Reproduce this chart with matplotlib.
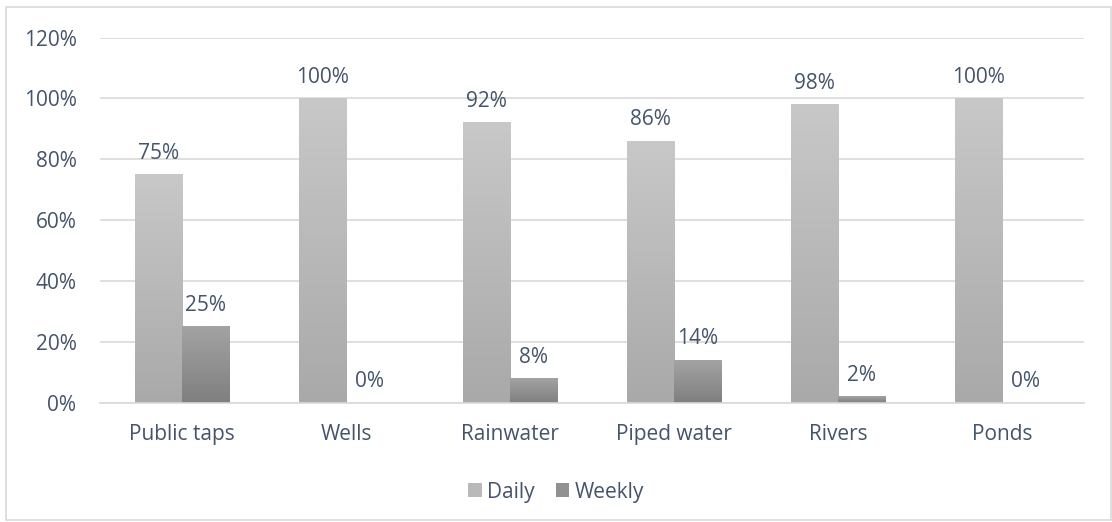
import matplotlib.pyplot as plt
import numpy as np
from matplotlib.colors import LinearSegmentedColormap
from matplotlib.patches import Patch, Rectangle

plt.rcParams['font.family'] = ['Open Sans', 'DejaVu Sans']

sources = ['Public taps', 'Wells', 'Rainwater', 'Piped water', 'Rivers', 'Ponds']
daily = [75, 100, 92, 86, 98, 100]
weekly = [25, 0, 8, 14, 2, 0]
ticks = [0, 20, 40, 60, 80, 100, 120]

text_col = '#44546a'
grid_col = '#d9d9d9'
fs = 15
# top -> bottom shading of each bar
daily_cmap = LinearSegmentedColormap.from_list('daily', ['#a9a9a9', '#c8c8c8'])
weekly_cmap = LinearSegmentedColormap.from_list('weekly', ['#7f7f7f', '#a3a3a3'])

fig = plt.figure(figsize=(11.12, 5.22), dpi=100)
ax = fig.add_axes([0.09, 0.228, 0.885, 0.7])

x = np.arange(len(sources))
w = 0.29
b1 = ax.bar(x - w / 2, daily, w, color='none', label='Daily')
b2 = ax.bar(x + w / 2, weekly, w, color='none', label='Weekly')

grad = np.linspace(0, 1, 256).reshape(-1, 1)
for bars, cmap in ((b1, daily_cmap), (b2, weekly_cmap)):
    for p in bars:
        h = p.get_height()
        if h <= 0:
            continue
        x0 = p.get_x()
        ax.imshow(grad, extent=[x0, x0 + p.get_width(), 0, h], origin='lower',
                  aspect='auto', cmap=cmap, zorder=2)

for bars, vals in ((b1, daily), (b2, weekly)):
    for p, v in zip(bars, vals):
        ax.text(p.get_x() + p.get_width() / 2, v + 3.6, f'{v}%', ha='center',
                va='bottom', fontsize=fs, color=text_col, zorder=3)

ax.set_xlim(-0.5, len(sources) - 0.5)
ax.set_ylim(0, 120)
ax.set_yticks(ticks)
ax.set_yticklabels([f'{t}%' for t in ticks])
ax.set_xticks(x)
ax.set_xticklabels(sources)
ax.tick_params(length=0, labelsize=fs, labelcolor=text_col)
ax.tick_params(axis='x', pad=15)
ax.tick_params(axis='y', pad=17)
ax.grid(axis='y', color=grid_col, lw=1.2, zorder=0)
ax.set_axisbelow(True)
for s in ('top', 'right', 'left'):
    ax.spines[s].set_visible(False)
ax.spines['bottom'].set_color(grid_col)
ax.spines['bottom'].set_linewidth(1.2)

handles = [Patch(facecolor='#b9b9b9', label='Daily'),
           Patch(facecolor='#919191', label='Weekly')]
fig.legend(handles=handles, loc='center', bbox_to_anchor=(0.5, 0.057), ncol=2,
           frameon=False, fontsize=fs, labelcolor=text_col, handlelength=0.65,
           handleheight=0.65, handletextpad=0.25, columnspacing=1.0)

# chart frame
fig.patches.append(Rectangle((0.005, 0.003), 0.994, 0.983, transform=fig.transFigure,
                             fill=False, edgecolor=grid_col, lw=1.2))

fig.savefig('out.png', dpi=100)
